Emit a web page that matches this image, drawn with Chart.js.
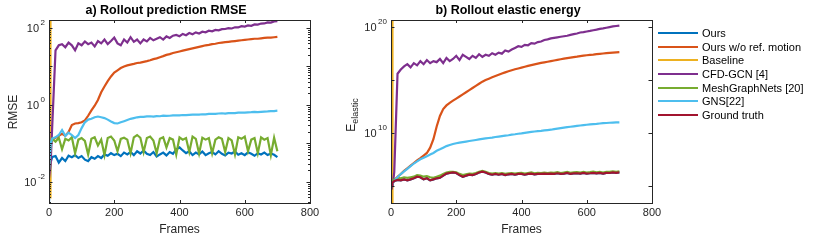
<!DOCTYPE html>
<html>
<head>
<meta charset="utf-8">
<script src="https://cdn.jsdelivr.net/npm/chart.js@4.4.1/dist/chart.umd.min.js"></script>
<style>
  html, body { margin: 0; padding: 0; background: #fff; }
  #wrap { position: relative; width: 830px; height: 240px; font-family: "Liberation Sans", Arial, sans-serif; }
  #c1 { position: absolute; left: 0; top: 0; }
  #c2 { position: absolute; left: 330px; top: 0; }
  #legend { position: absolute; left: 658px; top: 26px; font-size: 11px; color: #000; }
  .row { height: 13.7px; display: flex; align-items: center; white-space: nowrap; }
  .sw { width: 40px; height: 2px; margin-right: 4px; }
</style>
</head>
<body>
<div id="wrap">
  <canvas id="c1" width="330" height="240"></canvas>
  <canvas id="c2" width="350" height="240"></canvas>
  <div id="legend"></div>
</div>
<script>
const seriesNames = ["Ours", "Ours w/o ref. motion", "Baseline", "CFD-GCN [4]", "MeshGraphNets [20]", "GNS[22]", "Ground truth"];
const seriesColors = ["#0072BD", "#D95319", "#EDB120", "#7E2F8E", "#77AC30", "#4DBEEE", "#A2142F"];

// frames sampled from the figure
const frames = [0, 5, 10, 20, 30, 40, 50, 60, 70, 80,
  90, 100, 110, 120, 130, 140, 150, 160, 170, 180,
  190, 200, 210, 220, 230, 240, 250, 260, 270, 280,
  290, 300, 310, 320, 330, 340, 350, 360, 370, 380,
  390, 400, 410, 420, 430, 440, 450, 460, 470, 480,
  490, 500, 510, 520, 530, 540, 550, 560, 570, 580,
  590, 600, 610, 620, 630, 640, 650, 660, 670, 680,
  690, 700];
// baseline blows up right away, goes off the top of both plots
const baselineFrames = [4, 4.5, 700];

// a) RMSE
const rmseOurs = [0.003, 0.032, 0.045, 0.047, 0.032, 0.042, 0.035, 0.048, 0.044, 0.050,
  0.042, 0.047, 0.038, 0.035, 0.044, 0.040, 0.047, 0.042, 0.052, 0.048,
  0.056, 0.050, 0.054, 0.047, 0.058, 0.052, 0.060, 0.050, 0.063, 0.055,
  0.066, 0.054, 0.050, 0.060, 0.046, 0.052, 0.058, 0.049, 0.060, 0.054,
  0.071, 0.079, 0.066, 0.056, 0.063, 0.050, 0.058, 0.052, 0.062, 0.050,
  0.056, 0.060, 0.052, 0.063, 0.054, 0.049, 0.058, 0.055, 0.062, 0.051,
  0.056, 0.050, 0.059, 0.054, 0.048, 0.056, 0.052, 0.058, 0.050, 0.055,
  0.051, 0.044];
const rmseNoRef = [0.020, 0.100, 0.126, 0.141, 0.158, 0.178, 0.158, 0.200, 0.302, 0.331,
  0.339, 0.355, 0.398, 0.525, 0.724, 0.955, 1.35, 2.14, 3.02, 4.17,
  5.5, 6.92, 7.94, 9.12, 10.0, 10.7, 11.2, 11.7, 12.3, 12.6,
  13.2, 13.8, 14.5, 15.5, 16.2, 17.4, 18.6, 20.0, 20.9, 22.4,
  23.4, 24.5, 25.7, 26.9, 28.2, 29.5, 30.9, 32.4, 33.9, 35.5,
  36.3, 38.0, 38.9, 40.7, 41.7, 42.7, 43.7, 44.7, 45.7, 46.8,
  47.9, 49.0, 50.1, 51.3, 52.5, 52.5, 53.7, 55.0, 56.2, 56.2,
  57.5, 58.9];
const rmseBaseline = [0.004, 1e4, 1e4];
const rmseCfdGcn = [0.0126, 0.03, 0.3, 26.3, 35.5, 38.0, 31.6, 41.7, 35.5, 26.3,
  39.8, 35.5, 44.7, 38.0, 41.7, 33.1, 45.7, 39.8, 50.1, 38.0,
  45.7, 56.2, 39.8, 35.5, 50.1, 41.7, 57.5, 43.7, 50.1, 39.8,
  50.1, 44.7, 55.0, 47.9, 52.5, 57.5, 50.1, 60.3, 55.0, 63.1,
  66, 61, 70, 65, 74, 69, 77, 72, 80, 77,
  85, 82, 89, 87, 93, 94, 99, 97, 104, 103,
  111, 109, 116, 114, 124, 122, 130, 131, 139, 138,
  148, 151];
const rmseMgn = [0.020, 0.100, 0.132, 0.112, 0.141, 0.071, 0.132, 0.120, 0.145, 0.056,
  0.126, 0.138, 0.117, 0.052, 0.132, 0.145, 0.089, 0.126, 0.050, 0.138,
  0.151, 0.120, 0.063, 0.132, 0.141, 0.126, 0.056, 0.145, 0.166, 0.141,
  0.060, 0.138, 0.151, 0.120, 0.056, 0.132, 0.145, 0.079, 0.138, 0.126,
  0.052, 0.145, 0.126, 0.138, 0.060, 0.151, 0.132, 0.055, 0.141, 0.126,
  0.138, 0.056, 0.126, 0.145, 0.132, 0.060, 0.138, 0.120, 0.052, 0.145,
  0.132, 0.151, 0.063, 0.126, 0.138, 0.056, 0.145, 0.126, 0.138, 0.050,
  0.141, 0.063];
const rmseGns = [0.022, 0.100, 0.135, 0.145, 0.166, 0.224, 0.158, 0.191, 0.166, 0.138,
  0.166, 0.251, 0.355, 0.417, 0.437, 0.479, 0.501, 0.479, 0.457, 0.417,
  0.372, 0.339, 0.331, 0.355, 0.380, 0.407, 0.437, 0.457, 0.479, 0.490,
  0.490, 0.505, 0.510, 0.500, 0.515, 0.510, 0.530, 0.520, 0.525, 0.540,
  0.535, 0.540, 0.550, 0.545, 0.555, 0.560, 0.565, 0.560, 0.575, 0.570,
  0.585, 0.590, 0.585, 0.600, 0.610, 0.600, 0.615, 0.620, 0.615, 0.630,
  0.635, 0.630, 0.645, 0.650, 0.660, 0.655, 0.665, 0.675, 0.680, 0.690,
  0.695, 0.710];

// b) elastic energy
const energyTruth = [4.0e4, 2.0e5, 2.8e5, 3.5e5, 3.2e5, 4.0e5, 3.2e5, 4.0e5, 5.0e5, 7.1e5,
  6.3e5, 4.0e5, 5.0e5, 3.2e5, 4.0e5, 5.0e5, 5.6e5, 8.9e5, 1.4e6, 1.6e6,
  1.8e6, 1.6e6, 1.0e6, 7.1e5, 8.9e5, 1.1e6, 1.0e6, 1.3e6, 1.8e6, 2.1e6,
  1.8e6, 1.3e6, 1.1e6, 1.3e6, 1.1e6, 1.3e6, 1.0e6, 1.2e6, 1.3e6, 1.1e6,
  1.3e6, 1.3e6, 1.1e6, 1.3e6, 1.4e6, 1.2e6, 1.3e6, 1.3e6, 1.4e6, 1.3e6,
  1.4e6, 1.3e6, 1.5e6, 1.3e6, 1.4e6, 1.6e6, 1.3e6, 1.45e6, 1.5e6, 1.4e6,
  1.6e6, 1.4e6, 1.5e6, 1.66e6, 1.48e6, 1.6e6, 1.4e6, 1.66e6, 1.6e6, 1.8e6,
  1.66e6, 1.8e6];
// "Ours" lies under the ground truth curve in the figure
const energyOurs = energyTruth;
const energyNoRef = [5.6e4, 1.6e5, 3.2e5, 7.1e5, 1.26e6, 2.5e6, 4.5e6, 7.9e6, 1.41e7, 2.5e7,
  4.0e7, 7.1e7, 1.26e8, 4.0e8, 2.5e9, 4.0e10, 4.0e11, 1.78e12, 4.0e12, 7.1e12,
  1.12e13, 1.78e13, 2.8e13, 4.5e13, 7.1e13, 1.12e14, 1.78e14, 2.8e14, 4.5e14, 7.1e14,
  1.0e15, 1.35e15, 1.82e15, 2.4e15, 3.16e15, 4.17e15, 5.4e15, 6.9e15, 8.5e15, 1.05e16,
  1.26e16, 1.51e16, 1.82e16, 2.2e16, 2.6e16, 3.1e16, 3.6e16, 4.2e16, 4.8e16, 5.5e16,
  6.3e16, 7.2e16, 8.3e16, 9.5e16, 1.07e17, 1.2e17, 1.35e17, 1.51e17, 1.66e17, 1.86e17,
  2.04e17, 2.24e17, 2.45e17, 2.63e17, 2.88e17, 3.09e17, 3.31e17, 3.55e17, 3.8e17, 4.07e17,
  4.27e17, 4.47e17];
const energyBaseline = [1e3, 1e30, 1e30];
const energyCfdGcn = [4.0e4, 1.0e5, 2.0e6, 4.0e15, 1.0e16, 2.0e16, 3.2e16, 1.6e16, 4.0e16, 2.5e16,
  6.3e16, 3.2e16, 7.9e16, 4.0e16, 6.3e16, 5.0e16, 1.0e17, 4.0e16, 1.26e17, 6.3e16,
  1.0e17, 2.0e17, 7.9e16, 2.5e17, 1.6e17, 1.0e17, 2.0e17, 1.26e17, 2.8e17, 1.6e17,
  2.5e17, 2.0e17, 3.5e17, 2.5e17, 4.0e17, 3.2e17, 6.3e17, 5.0e17, 7.9e17, 1.12e18,
  1.6e18, 1.4e18, 2.2e18, 2.0e18, 3.2e18, 2.8e18, 4.0e18, 4.5e18, 6.3e18, 7.1e18,
  8.9e18, 1.0e19, 1.12e19, 1.26e19, 1.41e19, 1.58e19, 1.9e19, 2.24e19, 2.6e19, 3.2e19,
  3.5e19, 4.0e19, 4.5e19, 5.2e19, 6.0e19, 7.1e19, 7.9e19, 9.1e19, 1.05e20, 1.2e20,
  1.32e20, 1.41e20];
const energyMgn = [5.6e4, 2.8e5, 4.0e5, 5.6e5, 5.0e5, 6.3e5, 5.6e5, 6.3e5, 7.1e5, 1.0e6,
  8.9e5, 7.1e5, 7.9e5, 6.3e5, 5.6e5, 7.1e5, 8.9e5, 1.26e6, 1.78e6, 2.0e6,
  2.1e6, 1.9e6, 1.32e6, 1.0e6, 1.2e6, 1.41e6, 1.32e6, 1.58e6, 2.1e6, 2.5e6,
  2.1e6, 1.58e6, 1.41e6, 1.58e6, 1.41e6, 1.58e6, 1.32e6, 1.51e6, 1.58e6, 1.41e6,
  1.58e6, 1.66e6, 1.41e6, 1.58e6, 1.78e6, 1.51e6, 1.66e6, 1.58e6, 1.78e6, 1.58e6,
  1.78e6, 1.66e6, 1.9e6, 1.58e6, 1.78e6, 2.0e6, 1.66e6, 1.82e6, 1.9e6, 1.78e6,
  2.0e6, 1.78e6, 1.9e6, 2.1e6, 1.86e6, 2.0e6, 1.78e6, 2.1e6, 2.0e6, 2.24e6,
  2.1e6, 2.24e6];
const energyGns = [5.6e4, 1.6e5, 2.8e5, 6.3e5, 1.26e6, 2.24e6, 3.98e6, 7.1e6, 1.26e7, 2.0e7,
  3.16e7, 4.47e7, 6.3e7, 8.9e7, 1.26e8, 2.0e8, 2.8e8, 4.0e8, 5.6e8, 7.1e8,
  8.9e8, 1.05e9, 1.2e9, 1.35e9, 1.51e9, 1.7e9, 1.9e9, 2.14e9, 2.4e9, 2.7e9,
  3.0e9, 3.3e9, 3.6e9, 4.1e9, 4.5e9, 5.0e9, 5.5e9, 6.0e9, 6.8e9, 7.4e9,
  8.3e9, 9.1e9, 1.02e10, 1.12e10, 1.23e10, 1.35e10, 1.48e10, 1.58e10, 1.74e10, 1.86e10,
  2.0e10, 2.24e10, 2.5e10, 2.8e10, 3.16e10, 3.47e10, 3.8e10, 4.17e10, 4.57e10, 5.0e10,
  5.5e10, 5.9e10, 6.3e10, 6.8e10, 7.2e10, 7.8e10, 8.3e10, 8.7e10, 9.1e10, 9.5e10,
  9.8e10, 1.0e11];

const ink = "#262626";
const fam = '"Liberation Sans", Arial, sans-serif';

function sup(ctx, x, y, base, exp) {
  ctx.textAlign = "right";
  ctx.textBaseline = "middle";
  ctx.font = "8px " + fam;
  const w = ctx.measureText(exp).width;
  ctx.fillText(exp, x, y - 5);
  ctx.font = "11px " + fam;
  ctx.fillText(base, x - w - 1.5, y + 1);
}

// box, inner ticks, log labels and titles, MATLAB style
const framePlugin = {
  id: "frame",
  afterDraw(chart, args, o) {
    const { ctx, chartArea: a, scales } = chart;
    const xs = scales.x, ys = scales.y;
    const L = Math.round(a.left), R = Math.round(a.right);
    const T = Math.round(a.top), B = Math.round(a.bottom);
    ctx.save();
    ctx.strokeStyle = ink;
    ctx.fillStyle = ink;
    ctx.lineWidth = 1;
    ctx.strokeRect(L + 0.5, T + 0.5, R - L, B - T);
    ctx.beginPath();
    for (let v = 0; v <= 800; v += 200) {
      const px = Math.round(xs.getPixelForValue(v)) + 0.5;
      ctx.moveTo(px, B); ctx.lineTo(px, B - 3);
      ctx.moveTo(px, T); ctx.lineTo(px, T + 3);
    }
    for (const k of o.major) {
      const py = Math.round(ys.getPixelForValue(Math.pow(10, k))) + 0.5;
      ctx.moveTo(L, py); ctx.lineTo(L + 3.5, py);
      ctx.moveTo(R, py); ctx.lineTo(R - 3.5, py);
    }
    if (o.minor) {
      for (let k = -3; k <= 2; k++) {
        for (let m = 2; m <= 9; m++) {
          const v = m * Math.pow(10, k);
          if (v < ys.min || v > ys.max) continue;
          const py = Math.round(ys.getPixelForValue(v)) + 0.5;
          ctx.moveTo(L, py); ctx.lineTo(L + 2, py);
          ctx.moveTo(R, py); ctx.lineTo(R - 2, py);
        }
      }
    }
    ctx.stroke();
    for (const k of o.labels) {
      sup(ctx, L - 4, ys.getPixelForValue(Math.pow(10, k)), "10", String(k));
    }
    ctx.fillStyle = "#000";
    ctx.textAlign = "center";
    ctx.textBaseline = "middle";
    ctx.font = "bold 12.5px " + fam;
    ctx.fillText(o.title, o.titleX, 11);
    ctx.fillStyle = ink;
    ctx.translate(o.yTitleX, o.yTitleY);
    ctx.rotate(-Math.PI / 2);
    ctx.font = "12px " + fam;
    const w1 = ctx.measureText(o.yTitle).width;
    let w2 = 0;
    if (o.yTitleSub) {
      ctx.font = "9px " + fam;
      w2 = ctx.measureText(o.yTitleSub).width;
    }
    ctx.textAlign = "left";
    ctx.font = "12px " + fam;
    ctx.fillText(o.yTitle, -(w1 + w2) / 2, 0);
    if (o.yTitleSub) {
      ctx.font = "9px " + fam;
      ctx.fillText(o.yTitleSub, -(w1 + w2) / 2 + w1, 4);
    }
    ctx.restore();
  }
};

function makeChart(id, series, opt) {
  return new Chart(document.getElementById(id), {
    type: "line",
    data: {
      datasets: series.map((s, i) => ({
        label: seriesNames[s.idx],
        data: s.x.map((f, j) => ({ x: f, y: s.y[j] })),
        borderColor: seriesColors[s.idx],
        borderWidth: 2.2,
        pointRadius: 0,
        tension: 0,
        fill: false,
        order: series.length - i
      }))
    },
    options: {
      responsive: false,
      animation: false,
      layout: { padding: { top: 20, right: opt.padRight, left: 0, bottom: 0 } },
      plugins: { legend: { display: false }, tooltip: { enabled: false }, frame: opt.frame },
      scales: {
        x: {
          type: "linear", min: 0, max: 800,
          grid: { display: false, drawTicks: false },
          border: { display: false },
          ticks: { stepSize: 200, color: ink, font: { size: 11, family: fam }, padding: 3, maxRotation: 0 },
          title: { display: true, text: "Frames", color: ink, font: { size: 12, family: fam }, padding: { top: 0, bottom: 3 } },
          afterFit: (s) => { s.height = 37; }
        },
        y: {
          type: "logarithmic", min: opt.ymin, max: opt.ymax,
          grid: { display: false, drawTicks: false },
          border: { display: false },
          ticks: { display: false },
          afterFit: (s) => { s.width = opt.left; }
        }
      }
    },
    plugins: [framePlugin]
  });
}

makeChart("c1", [
  { idx: 0, x: frames, y: rmseOurs },
  { idx: 1, x: frames, y: rmseNoRef },
  { idx: 2, x: baselineFrames, y: rmseBaseline },
  { idx: 3, x: frames, y: rmseCfdGcn },
  { idx: 4, x: frames, y: rmseMgn },
  { idx: 5, x: frames, y: rmseGns }
], {
  left: 49, padRight: 20, ymin: 0.00285, ymax: 161,
  frame: { major: [-2, -1, 0, 1, 2], minor: true, labels: [-2, 0, 2],
    title: "a) Rollout prediction RMSE", titleX: 166, yTitle: "RMSE", yTitleX: 14, yTitleY: 112 }
});

makeChart("c2", [
  { idx: 0, x: frames, y: energyOurs },
  { idx: 1, x: frames, y: energyNoRef },
  { idx: 2, x: baselineFrames, y: energyBaseline },
  { idx: 3, x: frames, y: energyCfdGcn },
  { idx: 4, x: frames, y: energyMgn },
  { idx: 5, x: frames, y: energyGns },
  { idx: 6, x: frames, y: energyTruth }
], {
  left: 61, padRight: 28, ymin: 2.3e3, ymax: 4.9e20,
  frame: { major: [5, 10, 15, 20], minor: false, labels: [10, 20],
    title: "b) Rollout elastic energy", titleX: 178, yTitle: "E", yTitleSub: "elastic", yTitleX: 22, yTitleY: 115 }
});

// legend
const leg = document.getElementById("legend");
seriesNames.forEach((name, i) => {
  const row = document.createElement("div");
  row.className = "row";
  row.innerHTML = '<span class="sw" style="background:' + seriesColors[i] + '"></span><span>' + name + "</span>";
  leg.appendChild(row);
});
</script>
</body>
</html>
